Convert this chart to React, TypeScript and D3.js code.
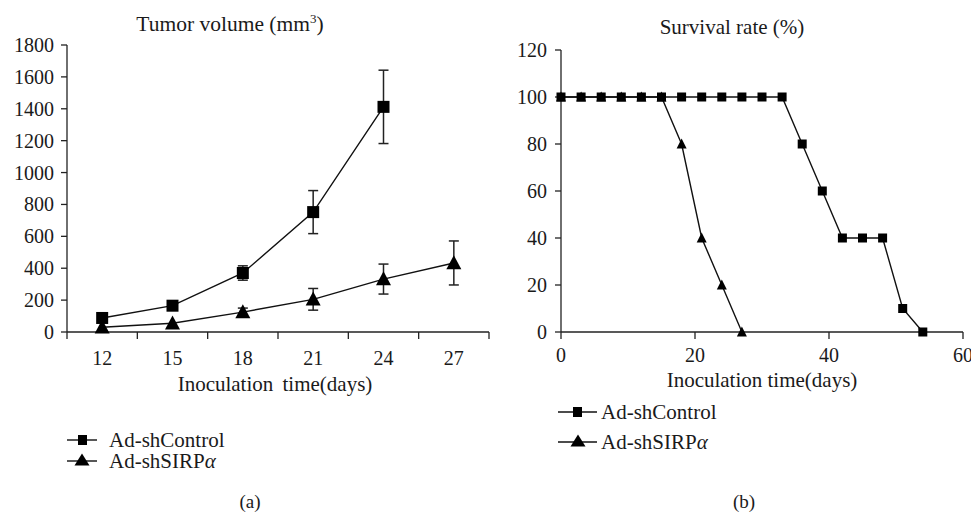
import React, { useEffect, useRef } from "react";
import * as d3 from "d3";

const days = ["12", "15", "18", "21", "24", "27"];
const controlVol = [88, 165, 370, 752, 1412, null];
const controlErr = [0, 0, 45, 135, 230, null];
const sirpVol = [30, 55, 125, 205, 332, 433];
const sirpErr = [0, 0, 25, 68, 94, 138];
const volTicks = [0, 200, 400, 600, 800, 1000, 1200, 1400, 1600, 1800];

const survControlDays = [0, 3, 6, 9, 12, 15, 18, 21, 24, 27, 30, 33, 36, 39, 42, 45, 48, 51, 54];
const survControl = [100, 100, 100, 100, 100, 100, 100, 100, 100, 100, 100, 100, 80, 60, 40, 40, 40, 10, 0];
const survSirpDays = [0, 3, 6, 9, 12, 15, 18, 21, 24, 27];
const survSirp = [100, 100, 100, 100, 100, 100, 80, 40, 20, 0];
const survYTicks = [0, 20, 40, 60, 80, 100, 120];
const survXTicks = [0, 20, 40, 60];

const seriesNames = ["Ad-shControl", "Ad-shSIRP"];

const FONT = "'Liberation Serif', 'Times New Roman', serif";

function tri(cx: number, cy: number, w: number, h: number) {
  return `M${cx},${cy - h * 0.55}L${cx + w / 2},${cy + h * 0.45}L${cx - w / 2},${cy + h * 0.45}Z`;
}

export default function App() {
  const ref = useRef<SVGSVGElement>(null);
  useEffect(() => {
    const svg = d3.select(ref.current);
    svg.selectAll("*").remove();
    const g = svg.append("g").attr("font-family", FONT).attr("fill", "#1a1a1a");

    // ---------- Left chart ----------
    const xL = d3.scaleBand<string>().domain(days).range([67, 489]).padding(0);
    const yL = d3.scaleLinear().domain([0, 1800]).range([332, 45]);

    g.append("line").attr("x1", 67).attr("x2", 67).attr("y1", yL(1800)).attr("y2", yL(0)).attr("stroke", "#222").attr("stroke-width", 1.3);
    g.append("line").attr("x1", 67).attr("x2", 489).attr("y1", yL(0)).attr("y2", yL(0)).attr("stroke", "#222").attr("stroke-width", 1.3);
    volTicks.forEach((t) => {
      g.append("line").attr("x1", 61).attr("x2", 67).attr("y1", yL(t)).attr("y2", yL(t)).attr("stroke", "#222").attr("stroke-width", 1.3);
      g.append("text").attr("x", 54).attr("y", yL(t)).attr("dy", "0.35em").attr("text-anchor", "end").attr("font-size", 20).text(String(t));
    });
    const bounds = days.map((d) => xL(d)!).concat([489]);
    bounds.forEach((b) => {
      g.append("line").attr("x1", b).attr("x2", b).attr("y1", yL(0)).attr("y2", yL(0) + 7).attr("stroke", "#222").attr("stroke-width", 1.3);
    });
    days.forEach((d) => {
      g.append("text").attr("x", xL(d)! + xL.bandwidth() / 2).attr("y", 365).attr("text-anchor", "middle").attr("font-size", 20).text(d);
    });
    g.append("text").attr("x", 230).attr("y", 31).attr("text-anchor", "middle").attr("font-size", 21.5)
      .html("Tumor volume (mm<tspan font-size='13' dy='-8'>3</tspan><tspan dy='8'>)</tspan>");
    g.append("text").attr("x", 275).attr("y", 391).attr("text-anchor", "middle").attr("font-size", 21).attr("word-spacing", 4).text("Inoculation time(days)");

    const cx = (i: number) => xL(days[i])! + xL.bandwidth() / 2;
    const line = d3.line<[number, number]>().x((d) => d[0]).y((d) => d[1]);

    const drawSeriesL = (vals: (number | null)[], errs: (number | null)[], shape: string) => {
      const pts: [number, number][] = [];
      vals.forEach((v, i) => { if (v !== null) pts.push([cx(i), yL(v)]); });
      g.append("path").attr("d", line(pts)).attr("fill", "none").attr("stroke", "#111").attr("stroke-width", 1.4);
      vals.forEach((v, i) => {
        if (v === null) return;
        const e = errs[i] || 0;
        if (e > 0) {
          const x = cx(i);
          g.append("line").attr("x1", x).attr("x2", x).attr("y1", yL(v + e)).attr("y2", yL(v - e)).attr("stroke", "#222").attr("stroke-width", 1.5);
          [v + e, v - e].forEach((yy) => {
            g.append("line").attr("x1", x - 5).attr("x2", x + 5).attr("y1", yL(yy)).attr("y2", yL(yy)).attr("stroke", "#222").attr("stroke-width", 1.5);
          });
        }
      });
      vals.forEach((v, i) => {
        if (v === null) return;
        if (shape === "square") {
          g.append("rect").attr("x", cx(i) - 6).attr("y", yL(v) - 6).attr("width", 12).attr("height", 12).attr("fill", "#000");
        } else {
          g.append("path").attr("d", tri(cx(i), yL(v), 15, 14)).attr("fill", "#000");
        }
      });
    };
    drawSeriesL(sirpVol, sirpErr, "tri");
    drawSeriesL(controlVol, controlErr, "square");

    const legL = [{ y: 440, shape: "square" }, { y: 461, shape: "tri" }];
    legL.forEach((l, i) => {
      g.append("line").attr("x1", 67).attr("x2", 97).attr("y1", l.y).attr("y2", l.y).attr("stroke", "#111").attr("stroke-width", 1.4);
      if (l.shape === "square") g.append("rect").attr("x", 78).attr("y", l.y - 5).attr("width", 9).attr("height", 10).attr("fill", "#000");
      else g.append("path").attr("d", tri(82, l.y - 1, 15, 12)).attr("fill", "#000");
      const t = g.append("text").attr("x", 109).attr("y", l.y).attr("dy", "0.35em").attr("font-size", 21).text(seriesNames[i]);
      if (i === 1) t.append("tspan").attr("font-style", "italic").text("α");
    });
    g.append("text").attr("x", 250).attr("y", 508).attr("text-anchor", "middle").attr("font-size", 19).text("(a)");

    // ---------- Right chart ----------
    const xR = d3.scaleLinear().domain([0, 60]).range([561, 963]);
    const yR = d3.scaleLinear().domain([0, 120]).range([332, 50]);

    g.append("line").attr("x1", 561).attr("x2", 561).attr("y1", yR(120)).attr("y2", yR(0)).attr("stroke", "#222").attr("stroke-width", 1.3);
    g.append("line").attr("x1", 561).attr("x2", 963).attr("y1", yR(0)).attr("y2", yR(0)).attr("stroke", "#222").attr("stroke-width", 1.3);
    survYTicks.forEach((t) => {
      g.append("line").attr("x1", 555).attr("x2", 561).attr("y1", yR(t)).attr("y2", yR(t)).attr("stroke", "#222").attr("stroke-width", 1.3);
      g.append("text").attr("x", 547).attr("y", yR(t)).attr("dy", "0.35em").attr("text-anchor", "end").attr("font-size", 20).text(String(t));
    });
    survXTicks.forEach((t) => {
      g.append("line").attr("x1", xR(t)).attr("x2", xR(t)).attr("y1", yR(0)).attr("y2", yR(0) + 7).attr("stroke", "#222").attr("stroke-width", 1.3);
      g.append("text").attr("x", xR(t)).attr("y", 362).attr("text-anchor", "middle").attr("font-size", 20).text(String(t));
    });
    g.append("text").attr("x", 732).attr("y", 34).attr("text-anchor", "middle").attr("font-size", 21).text("Survival rate (%)");
    g.append("text").attr("x", 762).attr("y", 387).attr("text-anchor", "middle").attr("font-size", 21).text("Inoculation time(days)");

    const sirpPts: [number, number][] = survSirpDays.map((d, i) => [xR(d), yR(survSirp[i])]);
    const ctrlPts: [number, number][] = survControlDays.map((d, i) => [xR(d), yR(survControl[i])]);
    g.append("path").attr("d", line(ctrlPts)).attr("fill", "none").attr("stroke", "#111").attr("stroke-width", 1.4);
    g.append("path").attr("d", line(sirpPts)).attr("fill", "none").attr("stroke", "#111").attr("stroke-width", 1.4);
    sirpPts.forEach((p) => g.append("path").attr("d", tri(p[0], p[1], 10, 10)).attr("fill", "#000"));
    ctrlPts.forEach((p) => g.append("rect").attr("x", p[0] - 4.5).attr("y", p[1] - 4.5).attr("width", 9).attr("height", 9).attr("fill", "#000"));

    const legR = [{ y: 412, shape: "square" }, { y: 442, shape: "tri" }];
    legR.forEach((l, i) => {
      g.append("line").attr("x1", 558).attr("x2", 597).attr("y1", l.y).attr("y2", l.y).attr("stroke", "#111").attr("stroke-width", 1.4);
      if (l.shape === "square") g.append("rect").attr("x", 573).attr("y", l.y - 5).attr("width", 9).attr("height", 10).attr("fill", "#000");
      else g.append("path").attr("d", tri(578, l.y - 1, 15, 12)).attr("fill", "#000");
      const t = g.append("text").attr("x", 601).attr("y", l.y).attr("dy", "0.35em").attr("font-size", 21).text(seriesNames[i]);
      if (i === 1) t.append("tspan").attr("font-style", "italic").text("α");
    });
    g.append("text").attr("x", 744).attr("y", 508).attr("text-anchor", "middle").attr("font-size", 19).text("(b)");
  }, []);

  return (
    <div style={{ position: "absolute", left: 0, top: 0, width: 971, height: 513, background: "#fff" }}>
      <svg ref={ref} width={971} height={513} style={{ display: "block" }} />
    </div>
  );
}
